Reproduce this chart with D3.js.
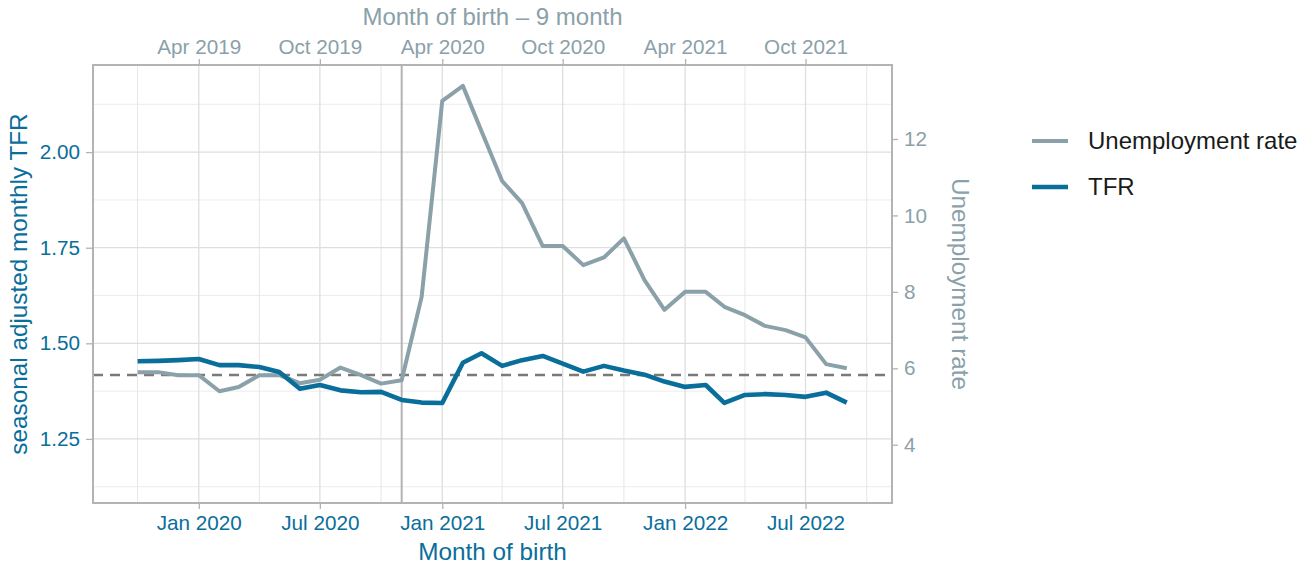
<!DOCTYPE html>
<html>
<head>
<meta charset="utf-8">
<script src="https://cdn.jsdelivr.net/npm/d3@7"></script>
<style>
  body { margin: 0; background: #fff; }
  text { font-family: "Liberation Sans", Arial, sans-serif; }
</style>
</head>
<body>
<div id="wrapper"></div>
<script>
// month of birth, one value per month
const months = ["2019-10", "2019-11", "2019-12",
    "2020-01", "2020-02", "2020-03", "2020-04", "2020-05", "2020-06",
    "2020-07", "2020-08", "2020-09", "2020-10", "2020-11", "2020-12",
    "2021-01", "2021-02", "2021-03", "2021-04", "2021-05", "2021-06",
    "2021-07", "2021-08", "2021-09", "2021-10", "2021-11", "2021-12",
    "2022-01", "2022-02", "2022-03", "2022-04", "2022-05", "2022-06",
    "2022-07", "2022-08", "2022-09"];

const tfr = [1.453, 1.454, 1.456,
    1.459, 1.443, 1.443, 1.438, 1.425, 1.381,
    1.391, 1.377, 1.372, 1.373, 1.352, 1.345,
    1.344, 1.449, 1.474, 1.441, 1.456, 1.467,
    1.447, 1.426, 1.441, 1.429, 1.418, 1.400,
    1.386, 1.391, 1.344, 1.365, 1.367, 1.365,
    1.360, 1.371, 1.345];

const unemployment = [5.90, 5.90, 5.82,
    5.82, 5.40, 5.51, 5.82, 5.82, 5.61,
    5.70, 6.02, 5.82, 5.60, 5.69, 7.87,
    13.0, 13.39, 12.2, 10.9, 10.32, 9.2,
    9.2, 8.7, 8.9, 9.4, 8.31, 7.53,
    8.0, 8.0, 7.61, 7.39, 7.11, 7.0,
    6.81, 6.11, 6.0];

const tfrTicks = [1.25, 1.50, 1.75, 2.00];
const tfrMinor = [1.125, 1.375, 1.625, 1.875, 2.125];
const unempTicks = [4, 6, 8, 10, 12];
const monthTicks = ["2020-01", "2020-07", "2021-01", "2021-07", "2022-01", "2022-07"];
const monthMinor = ["2019-10", "2020-04", "2020-10", "2021-04", "2021-10", "2022-04", "2022-10"];
const tfrReference = 1.417;
const markMonth = "2020-11";
const lagMonths = 9;

const seriesNames = ["Unemployment rate", "TFR"];
const colors = { "Unemployment rate": "#8aa1a9", "TFR": "#0a6e9b" };

function chartDraw() {
    const parseMonth = d3.utcParse("%Y-%m");
    const fmt = d3.utcFormat("%b %Y");
    const dataset = months.map((m, i) => ({ date: parseMonth(m), tfr: tfr[i], unemp: unemployment[i] }));

    const dimensions = {
        width: 1313,
        height: 569,
        panel: { left: 93, right: 892, top: 65, bottom: 503 },
    };

    const wrapper = d3.select("#wrapper").html("")
        .append("svg")
        .attr("width", dimensions.width)
        .attr("height", dimensions.height);

    const xScaler = d3.scaleUtc()
        .domain([new Date(Date.UTC(2019, 6, 26)), new Date(Date.UTC(2022, 10, 8))])
        .range([dimensions.panel.left, dimensions.panel.right]);

    const yScaler = d3.scaleLinear()
        .domain([1.0824, 2.2278])
        .range([dimensions.panel.bottom, dimensions.panel.top]);

    const uScaler = d3.scaleLinear()
        .domain([2.476, 13.936])
        .range([dimensions.panel.bottom, dimensions.panel.top]);

    const p = dimensions.panel;
    const grid = wrapper.append("g");

    // minor grid
    grid.selectAll(".hmin").data(tfrMinor).enter().append("line")
        .attr("x1", p.left).attr("x2", p.right)
        .attr("y1", d => yScaler(d)).attr("y2", d => yScaler(d))
        .attr("stroke", "#ececec").attr("stroke-width", 1);
    grid.selectAll(".vmin").data(monthMinor).enter().append("line")
        .attr("y1", p.top).attr("y2", p.bottom)
        .attr("x1", d => xScaler(parseMonth(d))).attr("x2", d => xScaler(parseMonth(d)))
        .attr("stroke", "#e6e6e6").attr("stroke-width", 1);
    // major grid
    grid.selectAll(".hmaj").data(tfrTicks).enter().append("line")
        .attr("x1", p.left).attr("x2", p.right)
        .attr("y1", d => yScaler(d)).attr("y2", d => yScaler(d))
        .attr("stroke", "#dedede").attr("stroke-width", 1.3);
    grid.selectAll(".vmaj").data(monthTicks).enter().append("line")
        .attr("y1", p.top).attr("y2", p.bottom)
        .attr("x1", d => xScaler(parseMonth(d))).attr("x2", d => xScaler(parseMonth(d)))
        .attr("stroke", "#dedede").attr("stroke-width", 1.3);

    // vertical marker
    wrapper.append("line")
        .attr("x1", xScaler(parseMonth(markMonth))).attr("x2", xScaler(parseMonth(markMonth)))
        .attr("y1", p.top).attr("y2", p.bottom)
        .attr("stroke", "#b3b3b3").attr("stroke-width", 2);

    // reference line
    wrapper.append("line")
        .attr("x1", p.left).attr("x2", p.right)
        .attr("y1", yScaler(tfrReference)).attr("y2", yScaler(tfrReference))
        .attr("stroke", "#7a7a7a").attr("stroke-width", 2.5)
        .attr("stroke-dasharray", "10,7");

    const unempLine = d3.line()
        .x(d => xScaler(d.date))
        .y(d => uScaler(d.unemp));
    const tfrLine = d3.line()
        .x(d => xScaler(d.date))
        .y(d => yScaler(d.tfr));

    wrapper.append("path")
        .datum(dataset)
        .attr("d", unempLine)
        .attr("fill", "none")
        .attr("stroke", colors["Unemployment rate"])
        .attr("stroke-width", 4)
        .attr("stroke-linejoin", "round");

    wrapper.append("path")
        .datum(dataset)
        .attr("d", tfrLine)
        .attr("fill", "none")
        .attr("stroke", colors["TFR"])
        .attr("stroke-width", 4.6)
        .attr("stroke-linejoin", "round");

    // panel border
    wrapper.append("rect")
        .attr("x", p.left).attr("y", p.top)
        .attr("width", p.right - p.left).attr("height", p.bottom - p.top)
        .attr("fill", "none").attr("stroke", "#b3b3b3").attr("stroke-width", 2);

    const styleAxis = (g, color) => {
        g.select(".domain").remove();
        g.selectAll(".tick line").attr("stroke", "#b3b3b3").attr("stroke-width", 1.3);
        g.selectAll(".tick text").attr("fill", color).attr("font-size", "20.7px")
            .attr("font-family", "Liberation Sans, Arial, sans-serif");
    };

    // bottom axis
    const xAxisGen = d3.axisBottom(xScaler)
        .tickValues(monthTicks.map(parseMonth))
        .tickFormat(fmt)
        .tickSizeInner(5).tickSizeOuter(0).tickPadding(6);
    wrapper.append("g")
        .attr("transform", `translate(0,${p.bottom + 1})`)
        .call(xAxisGen)
        .call(g => styleAxis(g, colors["TFR"]));

    // top axis: month of birth minus 9 months
    const topAxisGen = d3.axisTop(xScaler)
        .tickValues(monthTicks.map(parseMonth))
        .tickFormat(d => fmt(d3.utcMonth.offset(d, -lagMonths)))
        .tickSizeInner(5).tickSizeOuter(0).tickPadding(5);
    wrapper.append("g")
        .attr("transform", `translate(0,${p.top - 1})`)
        .call(topAxisGen)
        .call(g => styleAxis(g, colors["Unemployment rate"]));

    // left axis
    const yAxisGen = d3.axisLeft(yScaler)
        .tickValues(tfrTicks)
        .tickFormat(d3.format(".2f"))
        .tickSizeInner(6).tickSizeOuter(0).tickPadding(6);
    wrapper.append("g")
        .attr("transform", `translate(${p.left - 1},0)`)
        .call(yAxisGen)
        .call(g => styleAxis(g, colors["TFR"]));

    // right axis
    const uAxisGen = d3.axisRight(uScaler)
        .tickValues(unempTicks)
        .tickSizeInner(5).tickSizeOuter(0).tickPadding(6);
    wrapper.append("g")
        .attr("transform", `translate(${p.right + 1},0)`)
        .call(uAxisGen)
        .call(g => styleAxis(g, colors["Unemployment rate"]));

    const midX = (p.left + p.right) / 2;
    const midY = (p.top + p.bottom) / 2;

    wrapper.append("text")
        .attr("x", midX).attr("y", 560)
        .text("Month of birth")
        .attr("fill", colors["TFR"])
        .attr("font-size", "24.3px")
        .attr("text-anchor", "middle");

    wrapper.append("text")
        .attr("x", midX).attr("y", 25)
        .text("Month of birth \u2013 9 month")
        .attr("fill", colors["Unemployment rate"])
        .attr("font-size", "24px")
        .attr("text-anchor", "middle");

    wrapper.append("text")
        .attr("transform", `translate(27,${midY}) rotate(-90)`)
        .text("seasonal adjusted monthly TFR")
        .attr("fill", colors["TFR"])
        .attr("font-size", "24.3px")
        .attr("text-anchor", "middle");

    wrapper.append("text")
        .attr("transform", `translate(952,${midY}) rotate(90)`)
        .text("Unemployment rate")
        .attr("fill", colors["Unemployment rate"])
        .attr("font-size", "24.3px")
        .attr("text-anchor", "middle");

    // legend
    const legend = wrapper.append("g").attr("transform", "translate(1032,141)");
    const items = legend.selectAll("g").data(seriesNames).enter().append("g")
        .attr("transform", (d, i) => `translate(0,${i * 46})`);
    items.append("line")
        .attr("x1", 0).attr("x2", 36).attr("y1", 0).attr("y2", 0)
        .attr("stroke", d => colors[d])
        .attr("stroke-width", d => d === "TFR" ? 4.6 : 4);
    items.append("text")
        .attr("x", 56).attr("y", 0).attr("dy", "0.35em")
        .text(d => d)
        .attr("fill", "#1a1a1a")
        .attr("font-size", "24px");
}

chartDraw();
</script>
</body>
</html>
